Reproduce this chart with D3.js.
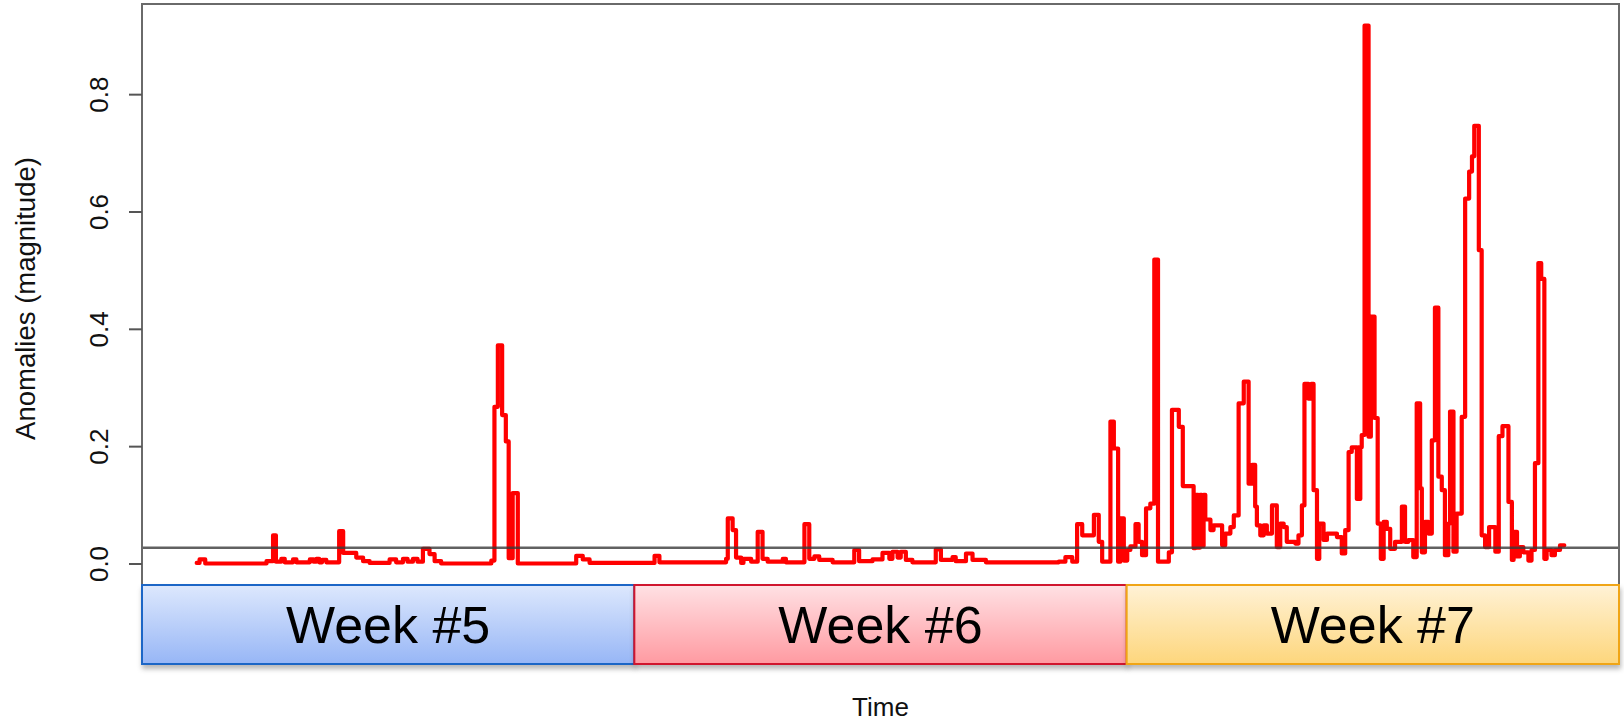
<!DOCTYPE html>
<html><head><meta charset="utf-8">
<script src="https://cdn.jsdelivr.net/npm/d3@7"></script>
<style>html,body{margin:0;padding:0;background:#fff;overflow:hidden}</style>
</head><body>
<svg id="chart" width="1624" height="721"></svg>
<script>
// ---------------- DATA ----------------
// Step series: hour at which the value changes, and the new value
const changeHour = [
  0, 1, 3, 24.5, 26.8, 27.8, 29.7, 30.9, 33.8, 35, 39.7, 41, 42, 43, 44, 45.5,
  50.0, 51.4, 56.0, 58.4, 60.7, 67.7, 70.0, 72.4, 74, 75.9, 77.5, 79.4, 81.7, 83.5, 85.8,
  103.4, 104.5, 105.7, 107.2, 108.5, 109.5, 110.9, 112.7,
  133.2, 135.5, 137.9, 160.7, 162.4,
  185.8, 186.4, 188.1, 189.3, 191.1, 191.9, 194.6, 196.9, 198.6, 200.4, 205.7, 206.8,
  213.3, 215.0, 216.8, 218.5, 223.2, 230.8, 232.5, 237.2, 240.7, 243.1, 244.2, 246.0,
  247.1, 248.9, 251.2, 259.4, 261.2, 265.3, 266.4, 270.0, 272.3, 277.0,
  302.6, 304.9, 307.3,
  309.0, 310.8, 314.9, 316.6, 317.8, 320.7, 321.9, 323.4, 324.2, 325.4, 326.6, 327.7,
  329.5, 330.6, 331.8, 333.2, 334.7, 336.1, 337.4, 341.2, 342.3, 344.7, 346.1, 349.9,
  350.5, 351.5, 352.1, 352.8, 353.4, 354.0, 355.8, 356.9, 359.9, 361.0, 362.8, 364.0,
  365.7, 367.5, 369.2, 370.4, 371.5, 372.1, 373.3, 374.5, 375.6, 377.4, 379.1, 380.3,
  381.5, 382.6, 385.6, 386.7, 387.9, 388.8, 390.2, 391.2, 392.0, 393.2, 394.0, 395.5,
  396.7, 400.2, 401.9, 403.1, 404.3, 405.4, 407.2, 407.6, 408.0, 408.4, 408.9, 409.9,
  411.3, 412.1, 413.4, 414.5, 415.6, 416.6, 417.7, 418.9, 420.6, 423.0, 424.1, 425.3,
  427.0, 428.2, 429.4, 430.0, 431.1, 432.3, 433.5, 434.6, 435.8, 437.0, 438.1, 439.3,
  439.9, 441.1, 442.2, 444.0, 445.2, 446.6, 447.6, 448.4, 450.0, 451.0, 452.2, 453.6,
  455.8, 457.0, 458.3, 460.4, 461.6, 462.2, 463.4, 464.4, 465.6, 467.4, 468.5, 469.7,
  470.9, 471.9, 473.0, 473.8, 475.5, 476.7, 478.5
];
const changeValue = [
  0.001, 0.007, 0.000, 0.004, 0.048, 0.003, 0.008, 0.002, 0.007, 0.002, 0.007, 0.003, 0.008, 0.002, 0.006, 0.002,
  0.055, 0.018, 0.010, 0.004, 0.001, 0.007, 0.002, 0.008, 0.003, 0.008, 0.003, 0.025, 0.016, 0.004, 0.000,
  0.005, 0.267, 0.372, 0.253, 0.208, 0.009, 0.120, 0.000,
  0.013, 0.007, 0.001, 0.013, 0.002,
  0.008, 0.077, 0.057, 0.010, 0.001, 0.008, 0.003, 0.054, 0.008, 0.003, 0.008, 0.002,
  0.067, 0.008, 0.012, 0.006, 0.002, 0.023, 0.004, 0.007, 0.018, 0.008, 0.020, 0.010,
  0.020, 0.006, 0.002, 0.024, 0.006, 0.011, 0.004, 0.017, 0.006, 0.002,
  0.003, 0.011, 0.003,
  0.067, 0.048, 0.083, 0.037, 0.003, 0.242, 0.196, 0.003, 0.077, 0.005, 0.023, 0.029,
  0.067, 0.037, 0.014, 0.094, 0.102, 0.518, 0.003, 0.019, 0.262, 0.233, 0.132, 0.026,
  0.117, 0.027, 0.117, 0.030, 0.117, 0.075, 0.057, 0.065, 0.031, 0.051, 0.062, 0.082,
  0.273, 0.310, 0.136, 0.168, 0.097, 0.065, 0.048, 0.065, 0.051, 0.099, 0.028, 0.068,
  0.062, 0.037, 0.034, 0.048, 0.099, 0.306, 0.281, 0.306, 0.125, 0.008, 0.068, 0.040,
  0.051, 0.045, 0.017, 0.057, 0.190, 0.198, 0.110, 0.198, 0.110, 0.198, 0.219, 0.917,
  0.216, 0.421, 0.248, 0.068, 0.008, 0.071, 0.059, 0.025, 0.037, 0.097, 0.037, 0.040,
  0.011, 0.273, 0.128, 0.019, 0.071, 0.051, 0.210, 0.436, 0.148, 0.125, 0.014, 0.068,
  0.259, 0.020, 0.085, 0.250, 0.622, 0.668, 0.694, 0.746, 0.534, 0.048, 0.028, 0.062,
  0.020, 0.217, 0.234, 0.105, 0.006, 0.054, 0.012, 0.028, 0.019, 0.005, 0.023, 0.171,
  0.512, 0.485, 0.008, 0.023, 0.014, 0.023, 0.031
];
const endHour = 480;
const threshold = 0.027;
const yTicks = [0.0, 0.2, 0.4, 0.6, 0.8];
const weekLabels = ["Week #5", "Week #6", "Week #7"];
const xTitle = "Time";
const yTitle = "Anomalies (magnitude)";

// ---------------- LAYOUT / STYLE ----------------
const plot = {left: 142, right: 1619, top: 4, bottom: 585};
const band = {top: 585, bottom: 664};
const weekStyles = [
  {top: "#dde8fd", bottom: "#97b6f6", stroke: "#1f66c6"},
  {top: "#ffe1e4", bottom: "#ff9aa1", stroke: "#d0122e"},
  {top: "#fff2d6", bottom: "#fdd67c", stroke: "#f0a515"}
];
const font = "'Liberation Sans', Arial, Helvetica, sans-serif";

const svg = d3.select("#chart");
const defs = svg.append("defs");

const series = changeHour.map((h, i) => ({t: h, v: changeValue[i]}));
series.push({t: endHour, v: changeValue[changeValue.length - 1]});

const tExt = d3.extent(series, d => d.t);
const vExt = d3.extent(series, d => d.v);
const tPad = 0.04 * (tExt[1] - tExt[0]);
const vPad = 0.04 * (vExt[1] - vExt[0]);

const x = d3.scaleLinear().domain([tExt[0] - tPad, tExt[1] + tPad]).range([plot.left, plot.right]);
const y = d3.scaleLinear().domain([vExt[0] - vPad, vExt[1] + vPad]).range([plot.bottom, plot.top]);

// series line
const line = d3.line().x(d => x(d.t)).y(d => y(d.v)).curve(d3.curveStepAfter);
svg.append("path")
  .datum(series)
  .attr("d", line)
  .attr("fill", "none")
  .attr("stroke", "#ff0000")
  .attr("stroke-width", 4.2)
  .attr("stroke-linejoin", "round")
  .attr("stroke-linecap", "round");

// threshold line
svg.append("line")
  .attr("x1", plot.left).attr("x2", plot.right)
  .attr("y1", y(threshold)).attr("y2", y(threshold))
  .attr("stroke", "#3a3a3a").attr("stroke-opacity", 0.8).attr("stroke-width", 2.5);

// plot box
svg.append("rect")
  .attr("x", plot.left).attr("y", plot.top)
  .attr("width", plot.right - plot.left).attr("height", plot.bottom - plot.top)
  .attr("fill", "none").attr("stroke", "#6a6a6a").attr("stroke-width", 2);

// y axis
const yAxis = svg.append("g")
  .attr("transform", `translate(${plot.left},0)`)
  .call(d3.axisLeft(y).tickValues(yTicks).tickSize(13).tickFormat(d3.format(".1f")));
yAxis.select(".domain").remove();
yAxis.selectAll(".tick line").attr("stroke", "#555").attr("stroke-width", 2);
yAxis.selectAll(".tick text")
  .attr("x", null).attr("dy", null)
  .attr("transform", "translate(-34,0) rotate(-90)")
  .attr("text-anchor", "middle")
  .attr("fill", "#111")
  .style("font-family", font)
  .style("font-size", "26px");

// y title
svg.append("text")
  .attr("transform", `translate(35,${(plot.top + plot.bottom) / 2 + 4}) rotate(-90)`)
  .attr("text-anchor", "middle")
  .style("font-family", font).style("font-size", "27.5px").attr("fill", "#111")
  .text(yTitle);

// x title
svg.append("text")
  .attr("x", (plot.left + plot.right) / 2).attr("y", 716)
  .attr("text-anchor", "middle")
  .style("font-family", font).style("font-size", "26px").attr("fill", "#111")
  .text(xTitle);

// week bands
const xb = d3.scaleBand().domain(weekLabels).range([plot.left, plot.right]).padding(0);
const shadow = defs.append("filter").attr("id", "sh")
  .attr("x", "-5%").attr("y", "-20%").attr("width", "110%").attr("height", "150%");
shadow.append("feDropShadow").attr("dx", 1).attr("dy", 4).attr("stdDeviation", 2.5)
  .attr("flood-color", "#000").attr("flood-opacity", 0.28);

weekLabels.forEach((w, i) => {
  const g = defs.append("linearGradient").attr("id", "wg" + i)
    .attr("x1", 0).attr("y1", 0).attr("x2", 0).attr("y2", 1);
  g.append("stop").attr("offset", "0%").attr("stop-color", weekStyles[i].top);
  g.append("stop").attr("offset", "100%").attr("stop-color", weekStyles[i].bottom);
});

const wg = svg.append("g").selectAll("g").data(weekLabels).join("g");
wg.append("rect")
  .attr("x", d => xb(d)).attr("y", band.top)
  .attr("width", xb.bandwidth()).attr("height", band.bottom - band.top)
  .attr("fill", (d, i) => `url(#wg${i})`)
  .attr("stroke", (d, i) => weekStyles[i].stroke)
  .attr("stroke-width", 2)
  .attr("filter", "url(#sh)");
wg.append("text")
  .attr("x", d => xb(d) + xb.bandwidth() / 2)
  .attr("y", 643)
  .attr("text-anchor", "middle")
  .style("font-family", font).style("font-size", "52px").attr("fill", "#000")
  .text(d => d);
</script>
</body></html>
